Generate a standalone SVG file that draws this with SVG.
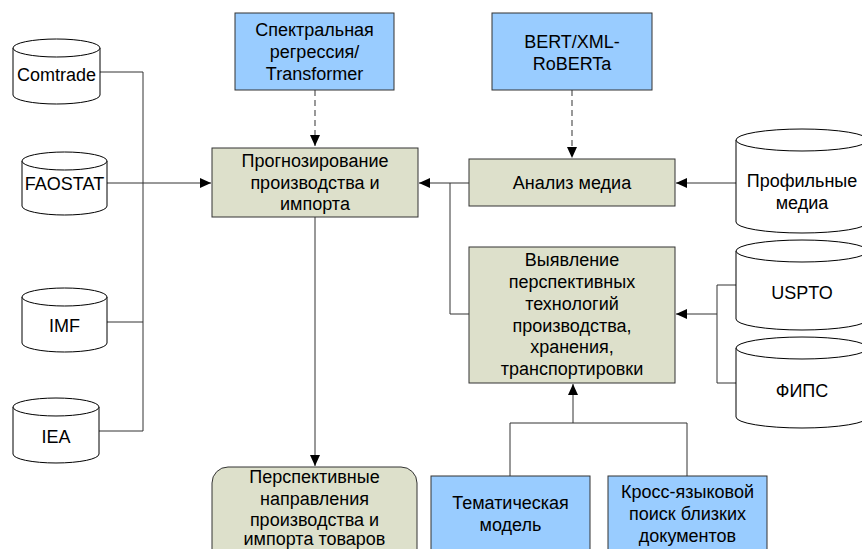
<svg xmlns="http://www.w3.org/2000/svg" width="862" height="549" viewBox="0 0 862 549">
<defs>
<style>
.bg{fill:#ffffff}
.blue{fill:#99ccff;stroke:#333333;stroke-width:1}
.olive{fill:#dde0cb;stroke:#333333;stroke-width:1}
.cyl{fill:#ffffff;stroke:#000000;stroke-width:1}
.t{font-family:"Liberation Sans",Arial,sans-serif;font-size:18px;fill:#000000;text-anchor:middle}
.ln{fill:none;stroke:#333333;stroke-width:1}
.dash{fill:none;stroke:#555555;stroke-width:1.2;stroke-dasharray:6 4}
</style>
<marker id="ah" markerUnits="userSpaceOnUse" markerWidth="12" markerHeight="10" refX="11" refY="5" orient="auto">
<path d="M0,0 L11,5 L0,10 Z" fill="#000000"/>
</marker>
</defs>
<rect class="bg" x="0" y="0" width="862" height="549"/>

<g id="connectors">
<path class="dash" d="M315,90 V146" marker-end="url(#ah)"/>
<path class="dash" d="M572,90 V158" marker-end="url(#ah)"/>
<path class="ln" d="M100,72 H143 V431 H99"/>
<path class="ln" d="M107,322 H143"/>
<path class="ln" d="M107,183 H211" marker-end="url(#ah)"/>
<path class="ln" d="M469,183 H419" marker-end="url(#ah)"/>
<path class="ln" d="M469,314 H450 V183"/>
<path class="ln" d="M736,183 H676" marker-end="url(#ah)"/>
<path class="ln" d="M736,285 H717 V383 H736"/>
<path class="ln" d="M717,314 H676" marker-end="url(#ah)"/>
<path class="ln" d="M315,217 V466" marker-end="url(#ah)"/>
<path class="ln" d="M510,476 V423 H687 V476"/>
<path class="ln" d="M573,423 V384" marker-end="url(#ah)"/>
</g>

<g id="spectral">
<rect class="blue" x="235" y="13" width="159" height="77"/>
<text class="t" x="314.5" y="36">Спектральная</text>
<text class="t" x="314.5" y="58">регрессия/</text>
<text class="t" x="314.5" y="80">Transformer</text>
</g>

<g id="bert">
<rect class="blue" x="492" y="13" width="160" height="77"/>
<text class="t" x="572" y="48">BERT/XML-</text>
<text class="t" x="572" y="70">RoBERTa</text>
</g>

<g id="forecast">
<rect class="olive" x="212" y="148" width="206" height="69"/>
<text class="t" x="315" y="167">Прогнозирование</text>
<text class="t" x="315" y="189">производства и</text>
<text class="t" x="315" y="210">импорта</text>
</g>

<g id="media">
<rect class="olive" x="469" y="159" width="206" height="47"/>
<text class="t" x="572" y="189">Анализ медиа</text>
</g>

<g id="tech">
<rect class="olive" x="469" y="247" width="206" height="136"/>
<text class="t" x="572" y="266">Выявление</text>
<text class="t" x="572" y="288">перспективных</text>
<text class="t" x="572" y="310">технологий</text>
<text class="t" x="572" y="332">производства,</text>
<text class="t" x="572" y="353">хранения,</text>
<text class="t" x="572" y="375">транспортировки</text>
</g>

<g id="result">
<rect class="olive" x="212" y="467" width="205" height="100" rx="16" ry="16"/>
<text class="t" x="314.5" y="483">Перспективные</text>
<text class="t" x="314.5" y="505">направления</text>
<text class="t" x="314.5" y="526">производства и</text>
<text class="t" x="314.5" y="545">импорта товаров</text>
</g>

<g id="topic">
<rect class="blue" x="431" y="476" width="159" height="90"/>
<text class="t" x="510.5" y="509">Тематическая</text>
<text class="t" x="510.5" y="531">модель</text>
</g>

<g id="crossling">
<rect class="blue" x="608" y="476" width="159" height="90"/>
<text class="t" x="687.5" y="498">Кросс-языковой</text>
<text class="t" x="687.5" y="520">поиск близких</text>
<text class="t" x="687.5" y="542">документов</text>
</g>

<g id="comtrade">
<path class="cyl" d="M13,48 A43.5,9 0 0 1 100,48 V95 A43.5,9 0 0 1 13,95 Z"/>
<path class="cyl" d="M13,48 A43.5,9 0 0 0 100,48"/>
<text class="t" x="56.5" y="81">Comtrade</text>
</g>

<g id="faostat">
<path class="cyl" d="M22,161 A42.5,9 0 0 1 107,161 V206 A42.5,9 0 0 1 22,206 Z"/>
<path class="cyl" d="M22,161 A42.5,9 0 0 0 107,161"/>
<text class="t" x="64.5" y="190">FAOSTAT</text>
</g>

<g id="imf">
<path class="cyl" d="M22,297 A42.5,9 0 0 1 107,297 V343 A42.5,9 0 0 1 22,343 Z"/>
<path class="cyl" d="M22,297 A42.5,9 0 0 0 107,297"/>
<text class="t" x="64.5" y="332">IMF</text>
</g>

<g id="iea">
<path class="cyl" d="M13,407 A43,9 0 0 1 99,407 V454 A43,9 0 0 1 13,454 Z"/>
<path class="cyl" d="M13,407 A43,9 0 0 0 99,407"/>
<text class="t" x="56" y="443">IEA</text>
</g>

<g id="profmedia">
<path class="cyl" d="M736,140 A66,11 0 0 1 868,140 V222 A66,11 0 0 1 736,222 Z"/>
<path class="cyl" d="M736,140 A66,11 0 0 0 868,140"/>
<text class="t" x="802" y="187">Профильные</text>
<text class="t" x="802" y="209">медиа</text>
</g>

<g id="uspto">
<path class="cyl" d="M736,251 A66,11 0 0 1 868,251 V319 A66,11 0 0 1 736,319 Z"/>
<path class="cyl" d="M736,251 A66,11 0 0 0 868,251"/>
<text class="t" x="802" y="299">USPTO</text>
</g>

<g id="fips">
<path class="cyl" d="M736,348 A66,11 0 0 1 868,348 V417 A66,11 0 0 1 736,417 Z"/>
<path class="cyl" d="M736,348 A66,11 0 0 0 868,348"/>
<text class="t" x="802" y="397">ФИПС</text>
</g>
</svg>
